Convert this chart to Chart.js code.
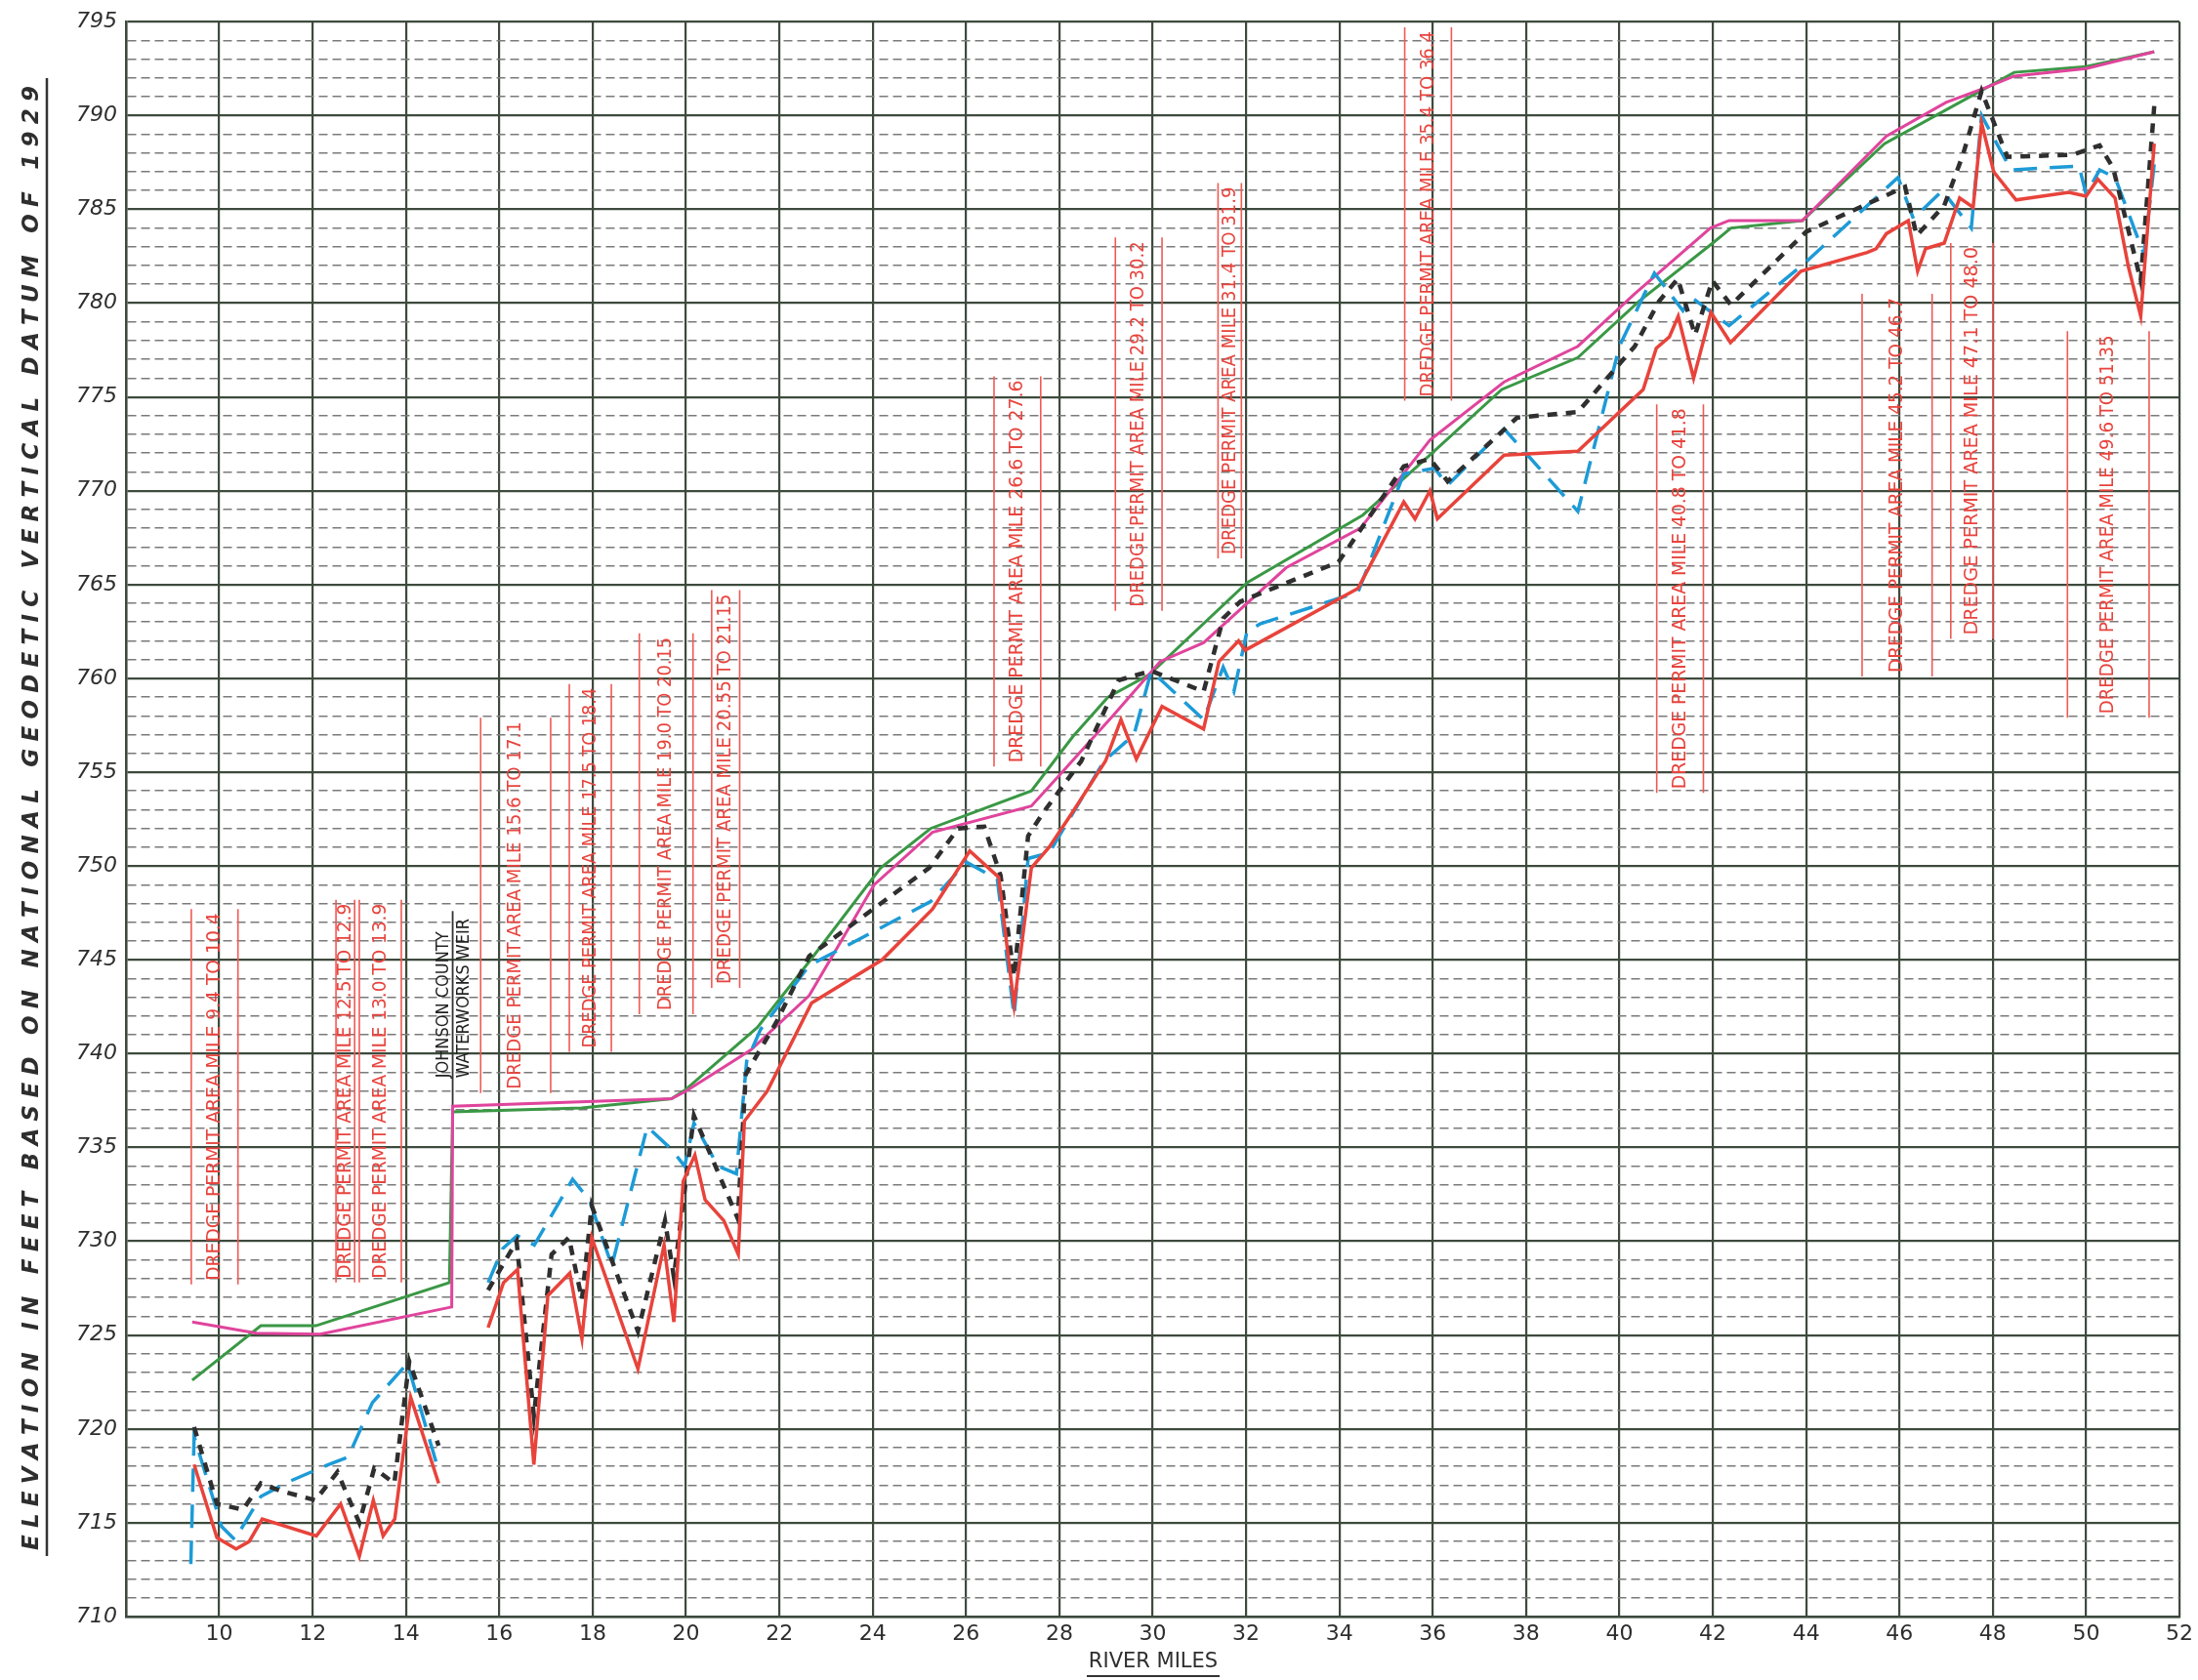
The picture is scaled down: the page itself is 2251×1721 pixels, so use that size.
<!DOCTYPE html>
<html>
<head>
<meta charset="utf-8">
<script src="https://cdn.jsdelivr.net/npm/chart.js@4.4.1/dist/chart.umd.min.js"></script>
<style>
  html, body { margin: 0; padding: 0; background: #fff; }
  #wrap { width: 2251px; height: 1721px; }
</style>
</head>
<body>
<div id="wrap"><canvas id="perfil" width="2251" height="1721"></canvas></div>
<script>
  // Eixos
  const xTicks = [8, 10, 12, 14, 16, 18, 20, 22, 24, 26, 28, 30, 32, 34, 36, 38, 40, 42, 44, 46, 48, 50, 52];
  const yTicks = [];
  for (let v = 710; v <= 795; v++) yTicks.push(v);

  // Perfis (milha do rio, cota em pés) - null = interrupção na linha
  const redMiles = [9.46, 9.95, 10.36, 10.64, 10.92, 12.08, 12.6, 13.0, 13.3, 13.51, 13.76, 14.1, 14.7, 15.2,
    15.76, 16.09, 16.39, 16.74, 17.04, 17.51, 17.77, 17.98, 18.97, 19.53, 19.74, 19.94, 20.19, 20.41, 20.81,
    21.12, 21.25, 21.74, 22.69, 24.2, 25.28, 26.08, 26.7, 27.03, 27.4, 27.78, 28.29, 28.99, 29.32, 29.65,
    30.2, 31.09, 31.42, 31.84, 31.98, 34.4, 35.38, 35.62, 35.94, 36.1, 37.53, 39.11, 40.51, 40.79, 41.07,
    41.26, 41.59, 41.96, 42.38, 43.89, 45.31, 45.5, 45.72, 46.19, 46.39, 46.56, 46.96, 47.29, 47.58, 47.76,
    48.02, 48.5, 49.63, 50.0, 50.25, 50.62, 50.91, 51.17, 51.46];
  const redElev = [718.1, 714.2, 713.6, 714.0, 715.2, 714.3, 716.0, 713.2, 716.2, 714.3, 715.2, 721.7, 717.1, null,
    725.4, 727.8, 728.5, 718.1, 727.1, 728.3, 724.8, 730.2, 723.2, 729.8, 725.7, 733.2, 734.6, 732.2, 731.1,
    729.3, 736.4, 738.0, 742.7, 745.0, 747.7, 750.8, 749.4, 742.6, 749.9, 751.0, 752.9, 755.6, 757.8, 755.7,
    758.5, 757.3, 760.9, 762.0, 761.5, 764.8, 769.4, 768.5, 770.0, 768.5, 771.9, 772.1, 775.4, 777.6, 778.2,
    779.3, 776.0, 779.5, 777.9, 781.7, 782.7, 782.9, 783.7, 784.4, 781.7, 782.9, 783.2, 785.6, 785.1, 789.6,
    787.0, 785.5, 785.9, 785.7, 786.6, 785.6, 781.9, 779.3, 788.5];

  const blueMiles = [9.39, 9.46, 10.05, 10.33, 10.89, 11.5, 12.34, 12.76, 13.28, 14.03, 14.66, 15.2,
    15.76, 16.07, 16.38, 16.75, 17.57, 17.93, 18.41, 19.17, 19.69, 19.97, 20.17, 20.69, 21.08, 21.3, 21.6,
    22.64, 25.24, 26.01, 26.67, 27.03, 27.33, 27.78, 28.96, 29.6, 29.97, 31.09, 31.51, 31.74, 32.02, 32.3,
    34.4, 35.38, 36.04, 36.32, 37.53, 39.11, 40.0, 40.75, 41.36, 41.55, 42.35, 44.0, 45.97, 46.3, 46.92,
    47.54, 47.76, 48.39, 49.85, 50.0, 50.29, 50.62, 51.24, 51.46];
  const blueElev = [712.8, 719.6, 714.8, 714.1, 716.4, 717.2, 718.1, 718.5, 721.4, 723.5, 718.1, null,
    727.8, 729.6, 730.3, 729.8, 733.3, 732.2, 728.7, 736.1, 734.9, 734.0, 736.3, 734.0, 733.6, 739.6, 741.3,
    744.7, 748.1, 750.2, 749.3, 742.0, 750.4, 750.7, 755.6, 757.0, 760.4, 757.8, 760.6, 759.3, 762.5, 762.9,
    764.6, 770.9, 771.2, 770.3, 773.3, 768.9, 777.7, 781.6, 779.6, 780.3, 778.8, 782.2, 786.7, 784.5, 786.0,
    784.0, 790.0, 787.1, 787.3, 785.8, 787.1, 786.7, 782.6, 787.4];

  const blackMiles = [9.46, 9.95, 10.51, 10.89, 11.31, 12.06, 12.53, 13.0, 13.32, 13.75, 14.07, 14.7, 15.2,
    15.76, 16.37, 16.74, 17.12, 17.49, 17.77, 17.98, 18.97, 19.55, 19.74, 20.17, 21.11, 21.28, 21.94, 22.64,
    25.21, 25.83, 26.39, 26.74, 27.03, 27.33, 27.64, 28.47, 29.27, 29.97, 31.09, 31.51, 31.88, 33.98, 35.38,
    35.94, 36.32, 37.81, 39.11, 40.33, 40.85, 41.25, 41.62, 41.99, 42.39, 44.0, 46.12, 46.37, 46.96, 47.36,
    47.76, 48.31, 49.7, 50.29, 50.58, 51.17, 51.46];
  const blackElev = [720.1, 716.0, 715.7, 717.1, 716.7, 716.2, 717.7, 715.0, 717.9, 717.1, 723.6, 719.1, null,
    727.4, 730.0, 720.7, 729.3, 730.2, 726.9, 731.9, 725.2, 731.1, 728.1, 736.7, 731.2, 738.9, 741.7, 745.2,
    749.9, 752.0, 752.1, 749.5, 744.1, 751.6, 752.8, 755.6, 759.9, 760.4, 759.3, 763.2, 764.1, 766.2, 771.3,
    771.7, 770.5, 773.9, 774.2, 777.7, 780.1, 781.3, 778.3, 781.2, 779.9, 783.8, 786.2, 783.6, 785.2, 787.9,
    791.3, 787.8, 787.9, 788.4, 787.2, 781.2, 790.5];

  const greenMiles = [9.42, 10.89, 12.07, 14.93, 15.0, 17.77, 19.69, 20.0, 21.53, 22.67, 24.17, 25.24, 27.4,
    28.29, 29.04, 29.93, 32.02, 34.5, 35.94, 37.48, 39.11, 40.42, 42.0, 42.39, 43.92, 45.68, 47.73, 48.46,
    50.0, 51.46];
  const greenElev = [722.6, 725.5, 725.5, 727.8, 736.9, 737.1, 737.6, 738.1, 741.4, 745.0, 749.9, 752.0, 754.0,
    756.9, 759.0, 760.2, 765.1, 768.7, 771.9, 775.4, 777.1, 780.1, 783.2, 784.0, 784.4, 788.5, 791.3, 792.3,
    792.6, 793.4];

  const magentaMiles = [9.42, 10.8, 12.16, 14.98, 15.0, 19.69, 20.0, 21.39, 22.64, 24.03, 25.28, 27.4, 28.06,
    29.18, 30.16, 31.09, 32.86, 34.45, 35.94, 37.53, 39.11, 40.33, 41.95, 42.35, 43.92, 45.72, 47.0, 47.87,
    48.46, 50.0, 51.46];
  const magentaElev = [725.7, 725.1, 725.05, 726.5, 737.2, 737.6, 738.0, 740.2, 743.1, 749.0, 751.8, 753.2, 755.0,
    758.1, 760.9, 761.9, 765.9, 768.0, 772.7, 775.8, 777.7, 780.5, 784.0, 784.4, 784.4, 788.9, 790.7, 791.5,
    792.1, 792.5, 793.4];

  // Áreas de permissão de dragagem
  const permitStart = [9.4, 12.5, 13.0, 15.6, 17.5, 19.0, 20.55, 26.6, 29.2, 31.4, 35.4, 40.8, 45.2, 47.1, 49.6];
  const permitEnd = [10.4, 12.9, 13.9, 17.1, 18.4, 20.15, 21.15, 27.6, 30.2, 31.9, 36.4, 41.8, 46.7, 48.0, 51.35];
  const permitText = ['9.4 TO 10.4', '12.5 TO 12.9', '13.0 TO 13.9', '15.6 TO 17.1', '17.5 TO 18.4',
    '19.0 TO 20.15', '20.55 TO 21.15', '26.6 TO 27.6', '29.2 TO 30.2', '31.4 TO 31.9', '35.4 TO 36.4',
    '40.8 TO 41.8', '45.2 TO 46.7', '47.1 TO 48.0', '49.6 TO 51.35'];
  const permitTop = [747.7, 748.2, 748.2, 757.9, 759.7, 762.4, 764.7, 776.1, 783.5, 786.4, 794.7, 774.6, 780.5, 783.2, 778.5];
  const permitBottom = [727.7, 727.8, 727.8, 737.9, 740.1, 742.1, 743.5, 755.3, 763.6, 766.4, 774.8, 753.9, 760.1, 762.1, 757.9];

  const GRID = '#3d4a3d';
  const RED_TXT = '#e8443e';
  const NARROW = '"DejaVu Sans Condensed", "Liberation Sans Narrow", "DejaVu Sans"';

  const pts = (miles, elev) => miles.map((m, i) => ({ x: m, y: elev[i] }));

  function textoVertical(ctx, text, cx, cy, length, font, color) {
    ctx.save();
    ctx.translate(cx, cy);
    ctx.rotate(-Math.PI / 2);
    ctx.font = font;
    ctx.fillStyle = color;
    ctx.textAlign = 'center';
    ctx.textBaseline = 'middle';
    const w = ctx.measureText(text).width;
    ctx.scale(length / w, 1);
    ctx.fillText(text, 0, 0);
    ctx.restore();
  }

  function textoEspacado(ctx, text, cx, cy, length, font, color) {
    ctx.save();
    ctx.translate(cx, cy);
    ctx.rotate(-Math.PI / 2);
    ctx.font = font;
    ctx.fillStyle = color;
    ctx.textAlign = 'left';
    ctx.textBaseline = 'middle';
    const chars = [...text];
    const widths = chars.map(c => ctx.measureText(c).width);
    const total = widths.reduce((a, b) => a + b, 0);
    const gap = (length - total) / (chars.length - 1);
    let pos = -length / 2;
    chars.forEach((c, i) => { ctx.fillText(c, pos, 0); pos += widths[i] + gap; });
    ctx.restore();
  }

  const anotacoes = {
    id: 'anotacoes',
    beforeDatasetsDraw(chart) {
      const { ctx, scales: { x, y } } = chart;
      ctx.save();
      // Linhas e textos das áreas de dragagem
      permitStart.forEach((s, i) => {
        const x1 = x.getPixelForValue(s);
        const x2 = x.getPixelForValue(permitEnd[i]);
        const yt = y.getPixelForValue(permitTop[i]);
        const yb = y.getPixelForValue(permitBottom[i]);
        ctx.strokeStyle = '#f05a55';
        ctx.lineWidth = 1.6;
        ctx.beginPath();
        ctx.moveTo(x1, yt); ctx.lineTo(x1, yb);
        ctx.moveTo(x2, yt); ctx.lineTo(x2, yb);
        ctx.stroke();
        textoVertical(ctx, 'DREDGE PERMIT AREA MILE ' + permitText[i], (x1 + x2) / 2, (yt + yb) / 2,
          (yb - yt) - 8, '20px ' + NARROW, RED_TXT);
      });

      // Barragem
      const xw = x.getPixelForValue(15.0);
      ctx.strokeStyle = '#333';
      ctx.lineWidth = 1.8;
      ctx.beginPath();
      ctx.moveTo(xw, y.getPixelForValue(747.6));
      ctx.lineTo(xw, y.getPixelForValue(737.2));
      ctx.stroke();
      const yb1 = y.getPixelForValue(738.7);
      const yt1 = y.getPixelForValue(746.5);
      const yt2 = y.getPixelForValue(747.2);
      textoVertical(ctx, 'JOHNSON COUNTY', x.getPixelForValue(14.8), (yb1 + yt1) / 2, yb1 - yt1,
        '18px ' + NARROW, '#222');
      textoVertical(ctx, 'WATERWORKS WEIR', x.getPixelForValue(15.24), (yb1 + yt2) / 2, yb1 - yt2,
        '18px ' + NARROW, '#222');
      ctx.restore();
    },
    afterDraw(chart) {
      const { ctx } = chart;
      ctx.save();
      // Título do eixo y
      textoEspacado(ctx, 'ELEVATION IN FEET BASED ON NATIONAL GEODETIC VERTICAL DATUM OF 1929',
        33, 838, 1500, 'italic bold 23px "DejaVu Sans"', '#2e2e2e');
      ctx.strokeStyle = '#333';
      ctx.lineWidth = 2.5;
      ctx.beginPath();
      ctx.moveTo(48, 80); ctx.lineTo(48, 1594);
      ctx.stroke();
      // Título do eixo x
      ctx.font = '21px "DejaVu Sans"';
      ctx.fillStyle = '#2e2e2e';
      ctx.textAlign = 'center';
      ctx.textBaseline = 'middle';
      ctx.fillText('RIVER MILES', 1181, 1703);
      ctx.lineWidth = 2;
      ctx.beginPath();
      ctx.moveTo(1113, 1717); ctx.lineTo(1249, 1717);
      ctx.stroke();
      ctx.restore();
    }
  };

  const config = {
    type: 'line',
    data: {
      datasets: [
        { label: 'red', data: pts(redMiles, redElev), borderColor: '#e8433b', borderWidth: 3.5 },
        { label: 'black', data: pts(blackMiles, blackElev), borderColor: '#2f2f2f', borderWidth: 4.5, borderDash: [10, 9] },
        { label: 'blue', data: pts(blueMiles, blueElev), borderColor: '#1d9bd7', borderWidth: 3.5, borderDash: [24, 13] },
        { label: 'magenta', data: pts(magentaMiles, magentaElev), borderColor: '#e0449c', borderWidth: 3 },
        { label: 'green', data: pts(greenMiles, greenElev), borderColor: '#3a9845', borderWidth: 3 },
      ],
    },
    options: {
      responsive: false,
      animation: false,
      spanGaps: false,
      layout: { padding: { top: 21, right: 18, left: 0, bottom: 0 } },
      plugins: { legend: { display: false }, tooltip: { enabled: false } },
      elements: { point: { radius: 0 }, line: { tension: 0, borderCapStyle: 'butt', borderJoinStyle: 'miter' } },
      scales: {
        x: {
          type: 'linear',
          min: 8,
          max: 52,
          afterBuildTicks: s => { s.ticks = xTicks.map(v => ({ value: v })); },
          afterFit: s => { s.height = 65; },
          ticks: {
            autoSkip: false,
            maxRotation: 0,
            padding: 5,
            color: '#2e2e2e',
            font: { family: 'DejaVu Sans', size: 22 },
            callback: v => (v === 8 ? '' : v),
          },
          grid: { color: GRID, lineWidth: 2.2, drawTicks: false },
          border: { color: GRID, width: 2.5 },
        },
        y: {
          type: 'linear',
          min: 710,
          max: 795,
          afterBuildTicks: s => { s.ticks = yTicks.map(v => ({ value: v })); },
          afterFit: s => { s.width = 129; },
          ticks: {
            autoSkip: false,
            padding: 9,
            color: '#2e2e2e',
            font: { family: 'DejaVu Sans', size: 22, style: 'italic' },
            callback: v => (v % 5 === 0 ? v : ''),
          },
          grid: {
            color: c => (c.tick && c.tick.value % 5 !== 0 ? '#7a7a7a' : GRID),
            lineWidth: c => (c.tick && c.tick.value % 5 !== 0 ? 1.6 : 2.2),
            drawTicks: false,
          },
          border: {
            color: GRID,
            width: 2.5,
            dash: c => (c.tick && c.tick.value % 5 !== 0 ? [9, 5] : []),
          },
        },
      },
    },
    plugins: [anotacoes],
  };

  const ctxPerfil = document.getElementById('perfil').getContext('2d');
  const perfilChart = new Chart(ctxPerfil, config);
</script>
</body>
</html>
